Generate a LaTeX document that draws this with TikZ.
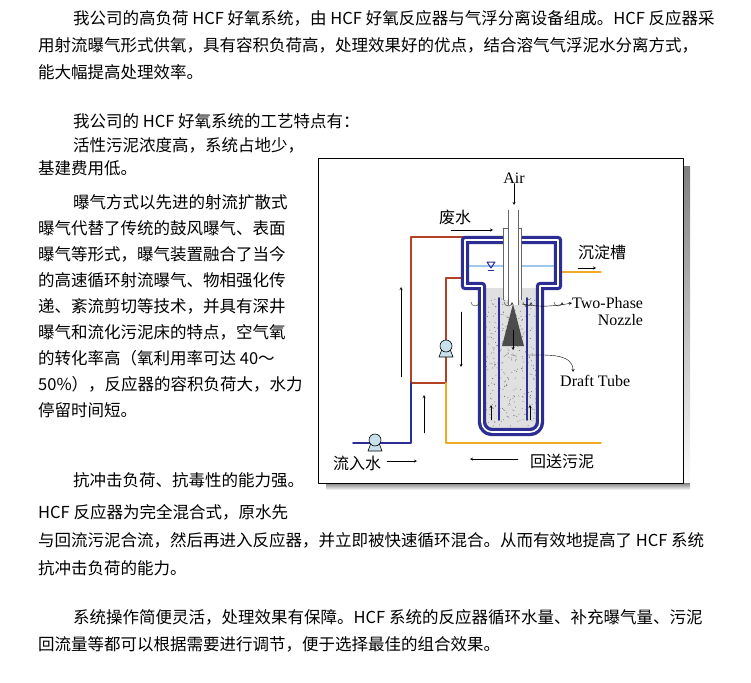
\documentclass[tikz,border=0pt]{standalone}
\usepackage{fontspec}
\setmainfont{Liberation Serif}
\newfontfamily\cjk{Noto Sans CJK SC}
\usetikzlibrary{arrows,positioning}
\definecolor{navy}{RGB}{45,45,150}
\definecolor{rust}{RGB}{180,65,35}
\definecolor{ochre}{RGB}{240,170,40}
\definecolor{aqua}{RGB}{160,200,235}
\definecolor{pumpfill}{RGB}{200,225,235}
\definecolor{shade}{RGB}{50,50,50}
\tikzset{
  para/.style={anchor=west,inner sep=0pt,font=\cjk\fontsize{16.5}{17}\selectfont},
  lab/.style={inner sep=0pt,font=\cjk\fontsize{16}{17}\selectfont},
  elab/.style={inner sep=0pt,font=\fontsize{16}{17}\selectfont},
  flow/.style={->,>=stealth,thin},
  pump/.style={draw=black,fill=pumpfill,line width=0.6pt}
}
\begin{document}
\begin{tikzpicture}[line cap=round,line join=round,x=1pt,y=-1pt]
      \useasboundingbox (0,0) rectangle (751,682);
      % text above
      \node[para] (t1) at (73,18) {我公司的高负荷 HCF 好氧系统，由 HCF 好氧反应器与气浮分离设备组成。HCF 反应器采};
      \node[para] (t2) at (38,45) {用射流曝气形式供氧，具有容积负荷高，处理效果好的优点，结合溶气气浮泥水分离方式，};
      \node[para] (t3) at (38,72) {能大幅提高处理效率。};
      \node[para] (t4) at (73,121) {我公司的 HCF 好氧系统的工艺特点有：};
      \node[para] (t5) at (73,145) {活性污泥浓度高，系统占地少，};
      \node[para] (t6) at (38,168) {基建费用低。};
      % left column
      \foreach \txt [count=\i] in {曝气方式以先进的射流扩散式,
          曝气代替了传统的鼓风曝气、表面,
          曝气等形式，曝气装置融合了当今,
          的高速循环射流曝气、物相强化传,
          递、紊流剪切等技术，并具有深井,
          曝气和流化污泥床的特点，空气氧,
          的转化率高（氧利用率可达 40～,
          50\%），反应器的容积负荷大，水力,
          停留时间短。}{
        \pgfmathsetmacro{\xx}{\i==1 ? 73 : 38}
        \node[para] (c\i) at (\xx,176+26*\i) {\txt};
      }
      \node[para] (c10) at (73,480) {抗冲击负荷、抗毒性的能力强。};
      \node[para] (c11) at (38,512) {HCF 反应器为完全混合式，原水先};
      \node[para] (t7) at (38,540) {与回流污泥合流，然后再进入反应器，并立即被快速循环混合。从而有效地提高了 HCF 系统};
      \node[para] (t8) at (38,568) {抗冲击负荷的能力。};
      \node[para] (t9) at (73,617) {系统操作简便灵活，处理效果有保障。HCF 系统的反应器循环水量、补充曝气量、污泥};
      \node[para] (t10) at (38,644) {回流量等都可以根据需要进行调节，便于选择最佳的组合效果。};

      % figure frame with shadow
      \fill[shade] (683,166) rectangle (690,490);
      \fill[shade] (326,483) rectangle (690,490);
      \draw[line width=0.8pt] (318,158) rectangle (683,483);

      % pipes
      \draw[rust,line width=1.6pt] (503,237) -- (411,237) -- (411,383) -- (446,383) -- (446,278) -- (465,278);
      \draw[navy,line width=1.6pt] (353,443) -- (411,443) -- (411,383);
      \draw[ochre,line width=1.6pt] (446,383) -- (446,443) -- (601,443);
      \draw[ochre,line width=1.6pt] (558,272) -- (601,272);

      % reactor contents
      \fill[black!12] (484,288) -- (538,288) -- (538,425) [rounded corners=8pt] -- (538,430) -- (484,430) [sharp corners] -- cycle;
      \pgfmathsetseed{7}
      \foreach \k in {1,...,300}{
        \fill[black!55] (486+50*rnd,298+128*rnd) circle (0.5);
      }
      \fill[black!70] (513,304) -- (524,346) -- (502,346) -- cycle;
      \draw[aqua,line width=1.2pt] (467,266) -- (556,266);
      \draw[navy,line width=1pt] (487,262) -- (495,262) -- (491,268) -- cycle;
      \draw[navy] (488,270) -- (494,270);

      % vessel wall
      \draw[navy,line width=3.4pt,double=white,double distance=1.6pt]
        (465,240) -- (558,240) -- (558,286) -- (540,286) -- (540,420)
        [rounded corners=10pt] -- (540,432) -- (482,432) [sharp corners] -- (482,286) -- (465,286) -- cycle;

      % draft tube
      \draw[navy,line width=1.6pt] (499,298) -- (499,420);
      \draw[navy,line width=1.6pt] (527,298) -- (527,420);

      % air pipes
      \fill[white] (503,228) rectangle (521,300);
      \draw[black!60] (503,228) -- (503,300) (521,228) -- (521,300) (503,228) -- (521,228);
      \fill[white] (508,210) rectangle (518,305);
      \draw[black!60] (508,210) -- (508,305) (518,210) -- (518,305);

      % small swirl arrows at nozzle
      \foreach \sx/\sd in {475/1,500/-1,527/1,550/-1}{
        \draw[flow,black!80] (\sx-4*\sd,302) arc[start angle=180,end angle=0,radius=4];
      }
      \draw[flow] (513,330) -- (513,350);
      \draw[flow] (491,420) -- (491,405);
      \draw[flow] (530,420) -- (530,405);

      % pumps
      \foreach \px/\py/\pn in {446/346/pumpa,375/440/pumpb}{
        \draw[pump] (\px-7,\py+11) -- (\px+7,\py+11) -- (\px+4,\py+3) -- (\px-4,\py+3) -- cycle;
        \draw[pump] (\px,\py) circle (6);
        \coordinate (\pn) at (\px,\py);
      }

      % flow arrows
      \coordinate (upa) at (401,377);
      \coordinate (upb) at (401,287);
      \draw[flow] (upa) -- (upb);
      \coordinate (dna) at (461,312);
      \coordinate (dnb) at (461,367);
      \draw[flow] (dna) -- (dnb);
      \coordinate (upc) at (424,433);
      \coordinate (upd) at (424,395);
      \draw[flow] (upc) -- (upd);

      % labels
      \node[elab] (air) at (514,178) {Air};
      \coordinate (airend) at (514,205);
      \draw[flow] (air.south) -- (airend);
      \node[lab] (waste) at (455,217) {废水};
      \coordinate (wa) at (451,230);
      \coordinate (wb) at (493,230);
      \draw[flow] (wa) -- (wb);
      \node[lab,anchor=west] (settle) at (578,252) {沉淀槽};
      \coordinate (sa) at (578,268);
      \coordinate (sb) at (596,268);
      \draw[flow] (sa) -- (sb);
      \node[elab,anchor=west] (twophase) at (572,303) {Two-Phase};
      \node[elab,below=5pt of twophase.south east,anchor=north east] (nozzle) {Nozzle};
      \coordinate (nz) at (522,304);
      \draw[flow] (nz) to[out=-10,in=190] (twophase.west);
      \node[elab,anchor=west] (draft) at (560,381) {Draft Tube};
      \coordinate (dt) at (528,355);
      \draw[flow] (dt) to[out=0,in=90] (573,372);
      \node[lab,anchor=west] (inlet) at (333,463) {流入水};
      \coordinate (ia) at (387,461);
      \coordinate (ib) at (417,461);
      \draw[flow] (ia) -- (ib);
      \node[lab,anchor=west] (ret) at (530,461) {回送污泥};
      \coordinate (ra) at (518,459);
      \coordinate (rb) at (470,459);
      \draw[flow] (ra) -- (rb);
    \end{tikzpicture}
\end{document}
